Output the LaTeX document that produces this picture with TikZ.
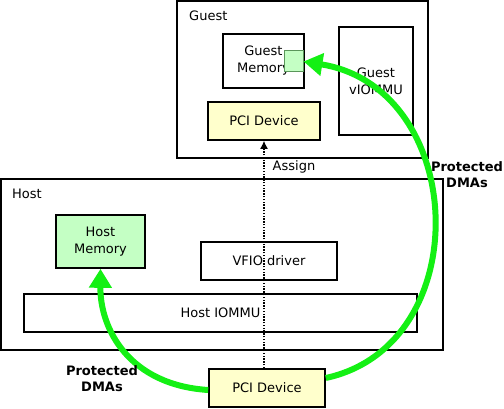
\documentclass[tikz,border=0pt]{standalone}
\usepackage{fontspec}
\setmainfont{DejaVu Sans}
\usetikzlibrary{arrows.meta}
\definecolor{pcifill}{RGB}{255,255,204}
\definecolor{memfill}{RGB}{196,255,196}
\definecolor{arcgreen}{RGB}{20,240,20}
\definecolor{sqborder}{RGB}{90,150,90}
\tikzset{
  box/.style={draw=black, line width=1.6pt, inner sep=0pt, align=center,
    font=\fontsize{13}{17}\selectfont},
  lbl/.style={inner sep=0pt, font=\fontsize{13}{15}\selectfont},
  blbl/.style={inner sep=0pt, align=center, font=\fontsize{13}{16}\selectfont\bfseries},
  dma/.style={draw=arcgreen, line width=6pt, -{Triangle[length=19pt,width=22pt]}},
}
\begin{document}
\begin{tikzpicture}[x=1pt,y=-1pt]
\useasboundingbox (0,0) rectangle (504,409);
% Guest
\node[box, minimum width=251pt, minimum height=157pt] (guest) at (302.5,79.5) {};
\node[lbl, anchor=west] (guestlbl) at (189,16) {Guest};
\node[box, minimum width=81pt, minimum height=54pt] (gmem) at (263.5,61) {Guest\\Memory};
\node[draw=sqborder, fill=memfill, line width=1pt, minimum width=19pt, minimum height=21pt, inner sep=0pt] (gsq) at (293.5,61.5) {};
\node[box, minimum width=74pt, minimum height=108pt] (viommu) at (376,81) {Guest\\vIOMMU};
\node[box, fill=pcifill, minimum width=112pt, minimum height=38pt] (gpci) at (264,121) {PCI Device};
% Host
\node[box, minimum width=442pt, minimum height=171pt] (host) at (222,264.5) {};
\node[lbl, anchor=west] (hostlbl) at (12,194) {Host};
\node[box, fill=memfill, minimum width=89pt, minimum height=53pt] (hmem) at (100.5,241.5) {Host\\Memory};
\node[box, minimum width=136pt, minimum height=38pt] (vfio) at (269,261) {VFIO driver};
\node[box, minimum width=393pt, minimum height=38pt] (hiommu) at (220.5,313) {Host IOMMU};
\node[box, fill=pcifill, minimum width=116pt, minimum height=38pt] (hpci) at (267,388) {PCI Device};
% Assign
\draw[dotted, line width=1.4pt, dash pattern=on 1.4pt off 1.4pt, -{Latex[length=8pt,width=8pt]}] (gpci.south |- hpci.north) -- (gpci.south);
\node[lbl] (assign) at (294,167) {Assign};
% DMAs
\draw[dma] ([yshift=10pt]hpci.east) .. controls (478,345) and (468,88) .. (gsq.east);
\draw[dma] ([yshift=-2pt]hpci.west) .. controls (130,385) and (100,330) .. (hmem.south);
\node[blbl] (dmaR) at (467,175) {Protected\\DMAs};
\node[blbl] (dmaL) at (102,379) {Protected\\DMAs};
\end{tikzpicture}
\end{document}
